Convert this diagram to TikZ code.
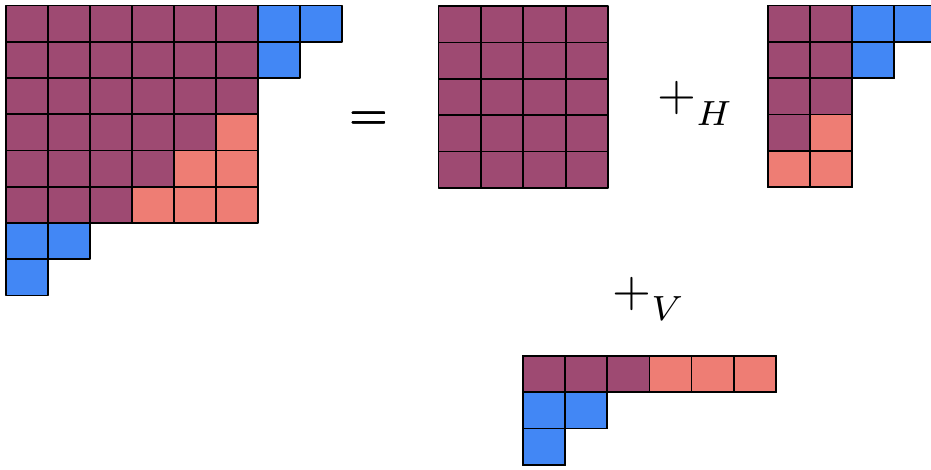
\documentclass[tikz,border=0pt]{standalone}
\usepackage{graphicx}
\definecolor{pur}{HTML}{9E4A72}
\definecolor{blu}{HTML}{4287F5}
\definecolor{sal}{HTML}{EE7D74}
\tikzset{cell/.style={draw=black, line width=1.7pt, line join=round},
  sym/.style={inner sep=0pt}}
\newcommand\bigsym[1]{\scalebox{5}{$#1$}}
\newcommand\lowsub[1]{_{\raisebox{-1.4pt}{$\scriptstyle #1$}}}
% \cellrow{ox}{oy}{w}{h}{row index}{colours}
\newcommand\cellrow[6]{%
  \foreach \k [count=\i from 0] in {#6}
    \path[cell, fill=\k] ({#1+\i*#3},{#2+#5*#4}) rectangle ++(#3,#4);}
\begin{document}
\begin{tikzpicture}[x=1pt, y=-1pt]
\useasboundingbox (0,0) rectangle (931,470);
% left figure
\cellrow{6}{5.5}{42}{36.25}{0}{pur,pur,pur,pur,pur,pur,blu,blu}
\cellrow{6}{5.5}{42}{36.25}{1}{pur,pur,pur,pur,pur,pur,blu}
\cellrow{6}{5.5}{42}{36.25}{2}{pur,pur,pur,pur,pur,pur}
\cellrow{6}{5.5}{42}{36.25}{3}{pur,pur,pur,pur,pur,sal}
\cellrow{6}{5.5}{42}{36.25}{4}{pur,pur,pur,pur,sal,sal}
\cellrow{6}{5.5}{42}{36.25}{5}{pur,pur,pur,sal,sal,sal}
\cellrow{6}{5.5}{42}{36.25}{6}{blu,blu}
\cellrow{6}{5.5}{42}{36.25}{7}{blu}
% middle square
\foreach \r in {0,...,4}
  \cellrow{438.5}{6}{42.4}{36.4}{\r}{pur,pur,pur,pur}
% right figure
\cellrow{768}{5.5}{42}{36.3}{0}{pur,pur,blu,blu}
\cellrow{768}{5.5}{42}{36.3}{1}{pur,pur,blu}
\cellrow{768}{5.5}{42}{36.3}{2}{pur,pur}
\cellrow{768}{5.5}{42}{36.3}{3}{pur,sal}
\cellrow{768}{5.5}{42}{36.3}{4}{sal,sal}
% bottom figure
\cellrow{523}{356}{42.15}{36.3}{0}{pur,pur,pur,sal,sal,sal}
\cellrow{523}{356}{42.15}{36.3}{1}{blu,blu}
\cellrow{523}{356}{42.15}{36.3}{2}{blu}
% symbols
\node[sym, anchor=base] (eq) at (368.5,131) {\bigsym{=}};
\node[sym, anchor=base west] (plusH) at (657,111) {\bigsym{+\lowsub{H}}};
\node[sym, anchor=base west] (plusV) at (612,306.5) {\bigsym{+\lowsub{V}}};
\end{tikzpicture}
\end{document}
